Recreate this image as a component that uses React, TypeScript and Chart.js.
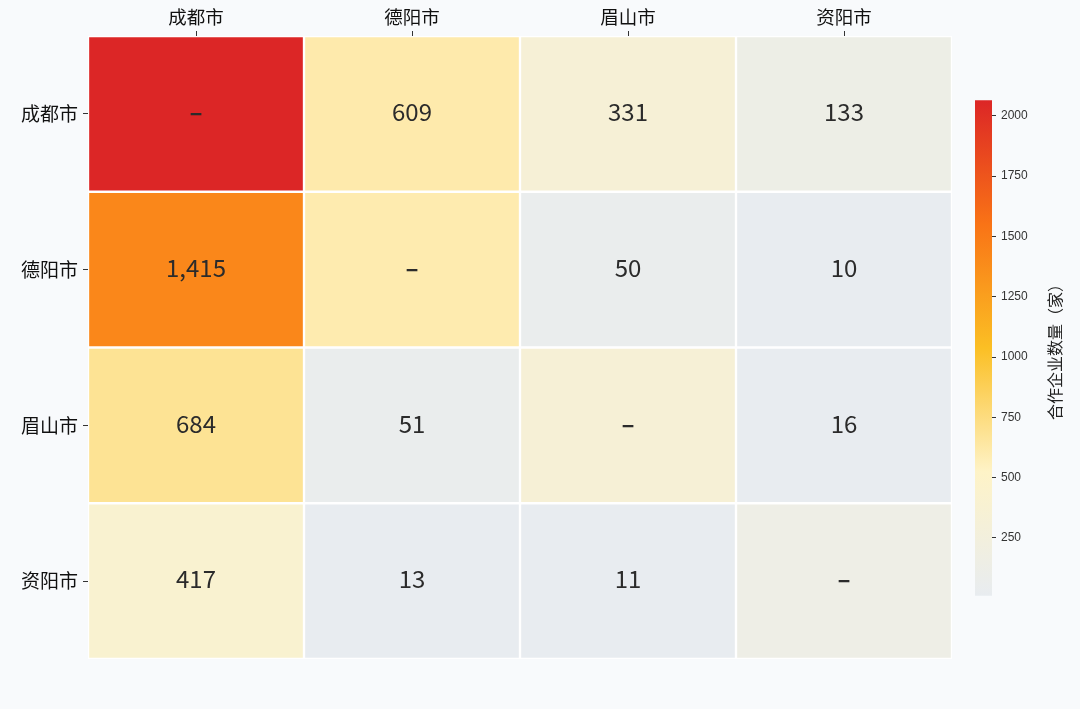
import React, { useEffect, useRef } from "react";
import Chart from "chart.js/auto";

// matrix: rows = left labels, columns = top labels
const CITIES = ["成都市", "德阳市", "眉山市", "资阳市"];
const ROW_CHENGDU = [2065, 609, 331, 133];
const ROW_DEYANG = [1415, 600, 50, 10];
const ROW_MEISHAN = [684, 51, 330, 16];
const ROW_ZIYANG = [417, 13, 11, 140];
const ROWS = [ROW_CHENGDU, ROW_DEYANG, ROW_MEISHAN, ROW_ZIYANG];

const COLOR_MIN = 10;
const COLOR_MAX = 2065;
const COLOR_STOPS = ["#e8ecf0", "#fef3c7", "#fbbf24", "#f97316", "#dc2626"];
const COLORBAR_TICKS = [250, 500, 750, 1000, 1250, 1500, 1750, 2000];
const COLORBAR_TITLE = "合作企业数量（家）";

const CJK = '"Noto Sans CJK SC", "Noto Sans", sans-serif';
const BG = "#f8fafc";

const hexToRgb = (h) => [1, 3, 5].map((i) => parseInt(h.slice(i, i + 2), 16));

const colorFor = (v) => {
  const t = Math.min(1, Math.max(0, (v - COLOR_MIN) / (COLOR_MAX - COLOR_MIN)));
  const seg = t * (COLOR_STOPS.length - 1);
  const i = Math.min(COLOR_STOPS.length - 2, Math.floor(seg));
  const f = seg - i;
  const a = hexToRgb(COLOR_STOPS[i]);
  const b = hexToRgb(COLOR_STOPS[i + 1]);
  const c = a.map((x, k) => Math.round(x + (b[k] - x) * f));
  return `rgb(${c[0]}, ${c[1]}, ${c[2]})`;
};

// draw value text in the middle of each cell
const cellLabels = {
  id: "cellLabels",
  afterDatasetsDraw(chart) {
    const { ctx } = chart;
    ctx.save();
    ctx.fillStyle = "#2b2b2b";
    ctx.textAlign = "center";
    ctx.textBaseline = "middle";
    chart.data.datasets.forEach((ds, i) => {
      const meta = chart.getDatasetMeta(i);
      meta.data.forEach((bar, j) => {
        const cy = (bar.y + bar.base) / 2 - 2;
        if (i === j) {
          ctx.font = `bold 24px ${CJK}`;
          ctx.fillText("–", bar.x, cy);
        } else {
          ctx.font = `24px ${CJK}`;
          ctx.fillText(ROWS[i][j].toLocaleString("en-US"), bar.x, cy);
        }
      });
    });
    ctx.restore();
  },
};

const colorbarTitle = {
  id: "colorbarTitle",
  afterDraw(chart) {
    const { ctx, chartArea } = chart;
    ctx.save();
    ctx.translate(95, (chartArea.top + chartArea.bottom) / 2);
    ctx.rotate(-Math.PI / 2);
    ctx.fillStyle = "#222";
    ctx.font = `16px ${CJK}`;
    ctx.textAlign = "center";
    ctx.textBaseline = "middle";
    ctx.fillText(COLORBAR_TITLE, 0, 0);
    ctx.restore();
  },
};

const App = () => {
  const heatRef = useRef(null);
  const barRef = useRef(null);
  const heatChart = useRef(null);
  const barChart = useRef(null);

  useEffect(() => {
    heatChart.current = new Chart(heatRef.current.getContext("2d"), {
      type: "bar",
      data: {
        labels: CITIES,
        datasets: ROWS.map((row, i) => ({
          label: CITIES[i],
          data: row.map(() => 1),
          backgroundColor: row.map(colorFor),
          borderColor: "#ffffff",
          borderWidth: 1.5,
          borderSkipped: false,
          categoryPercentage: 1,
          barPercentage: 1,
        })),
      },
      options: {
        animation: false,
        responsive: false,
        layout: { padding: { left: 0, top: 0, right: 128, bottom: 50 } },
        plugins: { legend: { display: false }, tooltip: { enabled: false } },
        scales: {
          x: {
            position: "top",
            stacked: true,
            grid: { display: true, drawOnChartArea: false, offset: false, tickLength: 5, color: "#333" },
            border: { display: false },
            ticks: { color: "#111", font: { family: CJK, size: 18.5 }, padding: 3, maxRotation: 0 },
            afterFit: (s) => { s.height = 36; },
          },
          y: {
            stacked: true,
            reverse: true,
            min: 0,
            max: 4,
            grid: { display: true, drawOnChartArea: false, tickLength: 5, color: "#333" },
            border: { display: false },
            afterBuildTicks: (s) => { s.ticks = CITIES.map((_, i) => ({ value: i + 0.5 })); },
            ticks: {
              color: "#111",
              font: { family: CJK, size: 19 },
              padding: 5,
              callback: (v) => CITIES[Math.floor(v)],
            },
            afterFit: (s) => { s.width = 88; },
          },
        },
      },
      plugins: [cellLabels],
    });

    barChart.current = new Chart(barRef.current.getContext("2d"), {
      type: "bar",
      data: {
        labels: [""],
        datasets: [
          {
            data: [[COLOR_MIN, COLOR_MAX]],
            categoryPercentage: 1,
            barPercentage: 1,
            borderWidth: 0,
            backgroundColor: (c) => {
              const { chart } = c;
              if (!chart.chartArea) return COLOR_STOPS[0];
              const y = chart.scales.y;
              const g = chart.ctx.createLinearGradient(0, y.getPixelForValue(COLOR_MIN), 0, y.getPixelForValue(COLOR_MAX));
              COLOR_STOPS.forEach((col, i) => g.addColorStop(i / (COLOR_STOPS.length - 1), col));
              return g;
            },
          },
        ],
      },
      options: {
        animation: false,
        responsive: false,
        layout: { padding: { left: 15, top: 10, right: 0, bottom: 10 } },
        plugins: { legend: { display: false }, tooltip: { enabled: false } },
        scales: {
          x: { display: false },
          y: {
            position: "right",
            min: COLOR_MIN,
            max: COLOR_MAX,
            grid: { display: true, drawOnChartArea: false, tickLength: 4, color: "#333" },
            border: { display: false },
            afterBuildTicks: (s) => { s.ticks = COLORBAR_TICKS.map((v) => ({ value: v })); },
            ticks: {
              color: "#333",
              font: { family: '"Liberation Sans", Arial, sans-serif', size: 12 },
              padding: 5,
              callback: (v) => String(v),
            },
            afterFit: (s) => { s.width = 88; },
          },
        },
      },
      plugins: [colorbarTitle],
    });

    return () => {
      if (heatChart.current) heatChart.current.destroy();
      if (barChart.current) barChart.current.destroy();
    };
  }, []);

  return (
    <div style={{ position: "absolute", left: 0, top: 0, width: 1080, height: 709, background: BG }}>
      <canvas ref={heatRef} width={1080} height={709} style={{ position: "absolute", left: 0, top: 0 }}></canvas>
      <canvas ref={barRef} width={120} height={520} style={{ position: "absolute", left: 960, top: 88 }}></canvas>
    </div>
  );
};

export default App;
